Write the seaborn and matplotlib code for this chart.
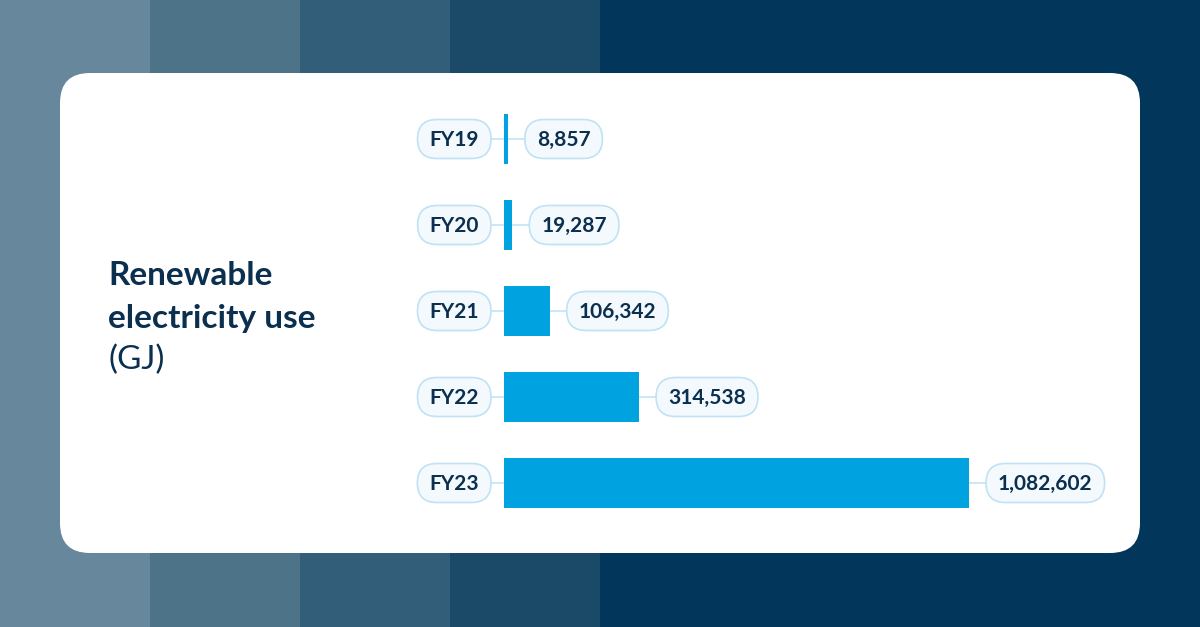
import matplotlib
matplotlib.use("Agg")
import matplotlib.pyplot as plt
from matplotlib.patches import FancyBboxPatch, Rectangle
from matplotlib.lines import Line2D
import seaborn as sns
import pandas as pd

categories = ["FY19", "FY20", "FY21", "FY22", "FY23"]
values = [8857, 19287, 106342, 314538, 1082602]
value_labels = ["8,857", "19,287", "106,342", "314,538", "1,082,602"]

title_bold = ["Renewable", "electricity use"]
title_unit = "(GJ)"

stripe_colors = ["#67879c", "#4d7389", "#335e79", "#1b4a69", "#02365a"]
BAR = "#00a3e0"
NAVY = "#0b2f4e"
PILL_FACE = "#f3f9fd"
PILL_EDGE = "#bfe2f4"
LINE = "#c5e6f5"

sns.set_theme(style="white")
plt.rcParams["font.family"] = ["Lato", "DejaVu Sans"]

W, H = 1200, 627
fig = plt.figure(figsize=(12, 6.27), dpi=100)

# background
bg = fig.add_axes([0, 0, 1, 1])
bg.set_xlim(0, W)
bg.set_ylim(H, 0)
bg.axis("off")
edges = [0, 150, 300, 450, 600, 1200]
for i, c in enumerate(stripe_colors):
    bg.add_patch(Rectangle((edges[i], 0), edges[i + 1] - edges[i], H, color=c, lw=0))
bg.add_patch(FancyBboxPatch((60, 73), 1080, 480, boxstyle="round,pad=0,rounding_size=30",
                            facecolor="white", edgecolor="none"))

# title
bg.text(108, 285, title_bold[0], fontsize=24, fontweight="bold", color=NAVY, va="baseline")
bg.text(108, 328, title_bold[1], fontsize=24, fontweight="bold", color=NAVY, va="baseline")
bg.text(108, 369, title_unit, fontsize=24, color=NAVY, va="baseline")

# bar axes
x0, x1 = 504, 969
top, bottom = 96, 526
ax = fig.add_axes([x0 / W, 1 - bottom / H, (x1 - x0) / W, (bottom - top) / H])
df = pd.DataFrame({"cat": categories, "val": values})
sns.barplot(data=df, y="cat", x="val", orient="h", color=BAR, width=0.58,
            saturation=1, ax=ax, zorder=3, linewidth=0)
ax.set_xlim(0, max(values))
ax.set_ylim(len(categories) - 0.5, -0.5)
ax.axis("off")
ax.patch.set_alpha(0)

fig.canvas.draw()
renderer = fig.canvas.get_renderer()
tr = ax.transData
pill_h = 39

def pill_text(xpix, ypix, label, anchor):
    t = fig.text(0, 0, label, fontsize=15, fontweight="bold", color=NAVY,
                 ha="center", va="center", zorder=6)
    ext = t.get_window_extent(renderer)
    w = ext.width + 24
    if anchor == "right":
        cx = xpix - w / 2
    else:
        cx = xpix + w / 2
    t.set_position((cx / W, (ypix - 1) / H))
    p = FancyBboxPatch((cx - w / 2, ypix - pill_h / 2), w, pill_h,
                       boxstyle=f"round,pad=0,rounding_size={pill_h/2}",
                       facecolor=PILL_FACE, edgecolor=PILL_EDGE, lw=1.2,
                       transform=None, zorder=5)
    fig.add_artist(p)
    return cx - w / 2, cx + w / 2

for i, (cat, v, lab) in enumerate(zip(categories, values, value_labels)):
    start = tr.transform((0, i))
    end = tr.transform((v, i))
    y = start[1]
    cl, cr = pill_text(start[0] - 13, y, cat, "right")
    vl, vr = pill_text(end[0] + 17, y, lab, "left")
    # connector behind the bars (background axes uses top-down pixel coords)
    bg.add_line(Line2D([cr, vl], [H - y, H - y], color=LINE, lw=1.3, zorder=1))

fig.savefig("out.png", dpi=100)
